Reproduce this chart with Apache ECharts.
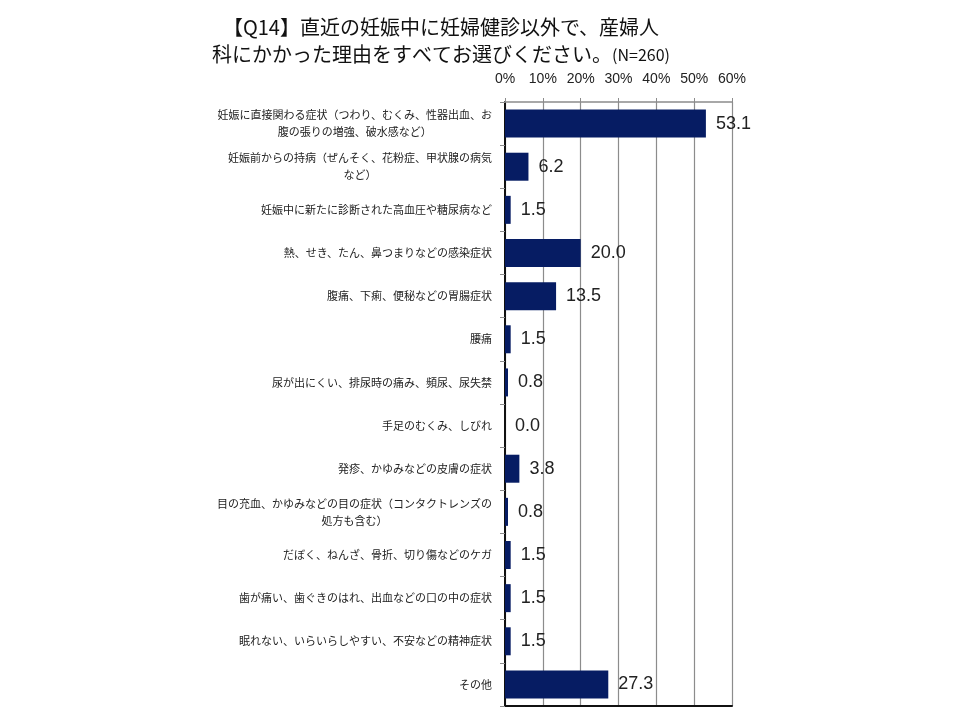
<!DOCTYPE html>
<html>
<head>
<meta charset="utf-8">
<script src="https://cdn.jsdelivr.net/npm/echarts@6/dist/echarts.min.js"></script>
<style>
  html, body { margin: 0; padding: 0; background: #fff; }
  #chart { width: 960px; height: 720px; }
</style>
</head>
<body>
<div id="chart"></div>
<script>
// 項目
const categories = [
  '妊娠に直接関わる症状（つわり、むくみ、性器出血、お\n腹の張りの増強、破水感など）',
  '妊娠前からの持病（ぜんそく、花粉症、甲状腺の病気\nなど）',
  '妊娠中に新たに診断された高血圧や糖尿病など',
  '熱、せき、たん、鼻つまりなどの感染症状',
  '腹痛、下痢、便秘などの胃腸症状',
  '腰痛',
  '尿が出にくい、排尿時の痛み、頻尿、尿失禁',
  '手足のむくみ、しびれ',
  '発疹、かゆみなどの皮膚の症状',
  '目の充血、かゆみなどの目の症状（コンタクトレンズの\n処方も含む）',
  'だぼく、ねんざ、骨折、切り傷などのケガ',
  '歯が痛い、歯ぐきのはれ、出血などの口の中の症状',
  '眠れない、いらいらしやすい、不安などの精神症状',
  'その他'
];
// 割合(%)
const values = [53.1, 6.2, 1.5, 20.0, 13.5, 1.5, 0.8, 0.0, 3.8, 0.8, 1.5, 1.5, 1.5, 27.3];
const xTicks = [0, 10, 20, 30, 40, 50, 60];

const chart = echarts.init(document.getElementById('chart'));
const option = {
  backgroundColor: '#fff',
  title: {
    text: '{a|【Q14】直近の妊娠中に妊婦健診以外で、産婦人}\n{a|科にかかった理由をすべてお選びください。}{b|(N=260)}',
    left: 436,
    top: 9,
    textAlign: 'center',
    textStyle: {
      fontWeight: 'normal',
      rich: {
        a: { fontFamily: 'Noto Sans CJK JP', fontWeight: 'normal', fontSize: 20, color: '#111', lineHeight: 27 },
        b: { fontFamily: 'Noto Sans CJK JP', fontWeight: 'normal', fontSize: 16, color: '#111', lineHeight: 27 }
      }
    }
  },
  grid: { left: 505, right: 228, top: 102, bottom: 14 },
  xAxis: [
    {
      type: 'value',
      position: 'top',
      min: xTicks[0],
      max: xTicks[xTicks.length - 1],
      interval: 10,
      axisLine: { show: true, lineStyle: { color: '#8c8c8c', width: 1.5 } },
      axisTick: { show: true, length: 4, lineStyle: { color: '#8c8c8c' } },
      splitLine: { show: true, lineStyle: { color: '#8c8c8c', width: 1.2 } },
      axisLabel: {
        formatter: '{value}%',
        margin: 16,
        fontFamily: 'Liberation Sans',
        fontSize: 14,
        color: '#222'
      }
    },
    {
      type: 'value',
      position: 'bottom',
      min: 0,
      max: 60,
      axisLine: { show: true, lineStyle: { color: '#111', width: 2 } },
      axisTick: { show: false },
      axisLabel: { show: false },
      splitLine: { show: false }
    }
  ],
  yAxis: [
    {
      type: 'category',
      inverse: true,
      data: categories,
      axisLine: { show: true, lineStyle: { color: '#8c8c8c', width: 1.5 } },
      axisTick: { show: true, length: 5, lineStyle: { color: '#8c8c8c' } },
      axisLabel: {
        margin: 13,
        formatter: function (v) {
          return v.split('\n').map(function (s) { return '{c|' + s + '}'; }).join('\n');
        },
        rich: {
          c: { align: 'center', fontFamily: 'Noto Sans CJK JP', fontSize: 11, color: '#222', lineHeight: 17 }
        }
      }
    },
    {
      type: 'category',
      position: 'right',
      inverse: true,
      data: categories,
      axisLine: { show: true, lineStyle: { color: '#111', width: 2 } },
      axisTick: { show: false },
      axisLabel: { show: false }
    }
  ],
  series: [
    {
      type: 'bar',
      xAxisIndex: 0,
      yAxisIndex: 0,
      data: values,
      barWidth: 28,
      itemStyle: { color: '#061c63' },
      label: {
        show: true,
        position: 'right',
        distance: 10,
        formatter: function (p) { return p.value.toFixed(1); },
        fontFamily: 'Liberation Sans',
        fontSize: 18,
        color: '#222'
      }
    }
  ]
};
chart.setOption(option);
</script>
</body>
</html>
